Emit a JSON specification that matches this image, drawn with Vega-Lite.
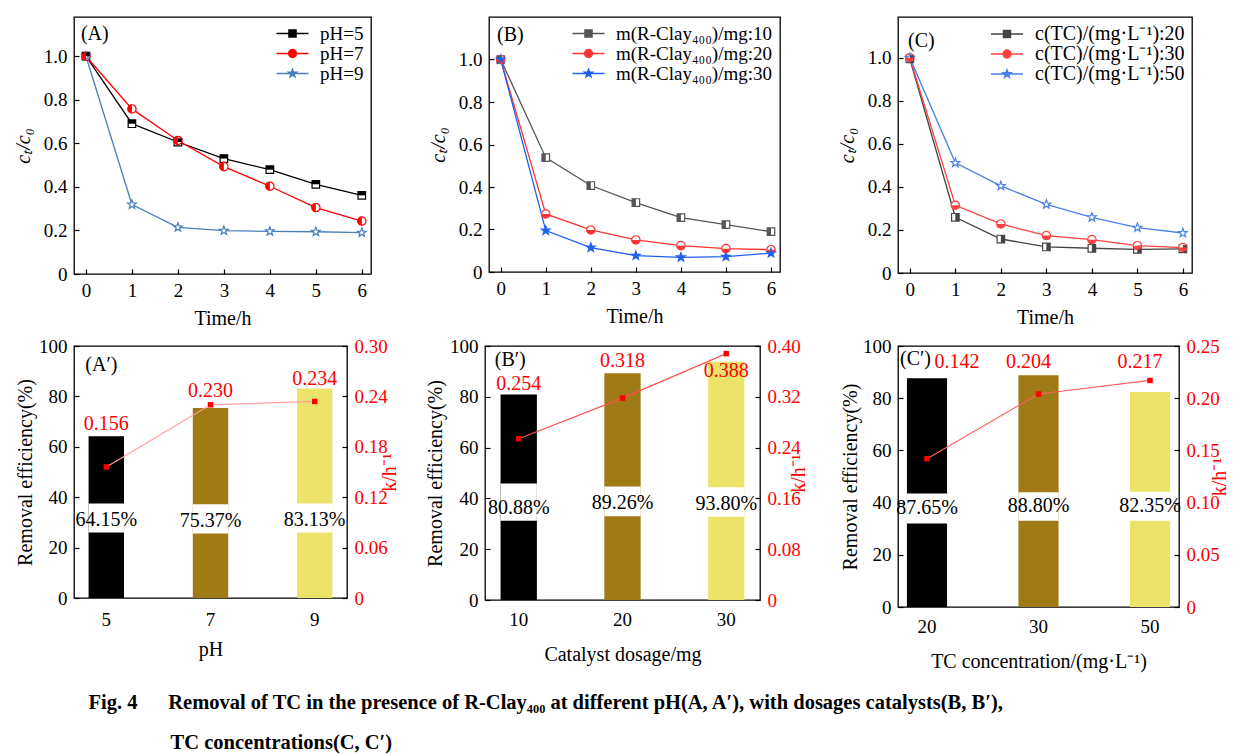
{
  "$schema": "https://vega.github.io/schema/vega-lite/v6.json",
  "padding": {"left": 12, "top": 16, "right": 0, "bottom": 0},
  "autosize": {"type": "pad"},
  "config": {
    "font": "Liberation Serif",
    "view": {"stroke": "#000", "strokeWidth": 1.3},
    "axis": {"grid": false, "domain": false, "labelFontSize": 19, "titleFontSize": 20, "titleFontWeight": "normal", "labelColor": "#000", "titleColor": "#000", "tickColor": "#000", "tickSize": -5, "tickWidth": 1.2, "labelPadding": 12, "labelFlush": false, "labelOverlap": false},
    "title": {"fontWeight": "normal", "fontSize": 20, "color": "#000"}
  },
  "datasets": {
    "A": [
      {"t": 0, "ratio": 1.0, "series": "pH=5"}, {"t": 1, "ratio": 0.69, "series": "pH=5"}, {"t": 2, "ratio": 0.606, "series": "pH=5"}, {"t": 3, "ratio": 0.53, "series": "pH=5"}, {"t": 4, "ratio": 0.479, "series": "pH=5"}, {"t": 5, "ratio": 0.412, "series": "pH=5"}, {"t": 6, "ratio": 0.361, "series": "pH=5"},
      {"t": 0, "ratio": 1.0, "series": "pH=7"}, {"t": 1, "ratio": 0.758, "series": "pH=7"}, {"t": 2, "ratio": 0.613, "series": "pH=7"}, {"t": 3, "ratio": 0.493, "series": "pH=7"}, {"t": 4, "ratio": 0.403, "series": "pH=7"}, {"t": 5, "ratio": 0.305, "series": "pH=7"}, {"t": 6, "ratio": 0.243, "series": "pH=7"},
      {"t": 0, "ratio": 1.0, "series": "pH=9"}, {"t": 1, "ratio": 0.319, "series": "pH=9"}, {"t": 2, "ratio": 0.214, "series": "pH=9"}, {"t": 3, "ratio": 0.199, "series": "pH=9"}, {"t": 4, "ratio": 0.196, "series": "pH=9"}, {"t": 5, "ratio": 0.194, "series": "pH=9"}, {"t": 6, "ratio": 0.19, "series": "pH=9"}
    ],
    "B": [
      {"t": 0, "ratio": 1.0, "series": "m(R-Clay₄₀₀)/mg:10"}, {"t": 1, "ratio": 0.538, "series": "m(R-Clay₄₀₀)/mg:10"}, {"t": 2, "ratio": 0.407, "series": "m(R-Clay₄₀₀)/mg:10"}, {"t": 3, "ratio": 0.327, "series": "m(R-Clay₄₀₀)/mg:10"}, {"t": 4, "ratio": 0.256, "series": "m(R-Clay₄₀₀)/mg:10"}, {"t": 5, "ratio": 0.223, "series": "m(R-Clay₄₀₀)/mg:10"}, {"t": 6, "ratio": 0.19, "series": "m(R-Clay₄₀₀)/mg:10"},
      {"t": 0, "ratio": 1.0, "series": "m(R-Clay₄₀₀)/mg:20"}, {"t": 1, "ratio": 0.273, "series": "m(R-Clay₄₀₀)/mg:20"}, {"t": 2, "ratio": 0.198, "series": "m(R-Clay₄₀₀)/mg:20"}, {"t": 3, "ratio": 0.151, "series": "m(R-Clay₄₀₀)/mg:20"}, {"t": 4, "ratio": 0.124, "series": "m(R-Clay₄₀₀)/mg:20"}, {"t": 5, "ratio": 0.11, "series": "m(R-Clay₄₀₀)/mg:20"}, {"t": 6, "ratio": 0.105, "series": "m(R-Clay₄₀₀)/mg:20"},
      {"t": 0, "ratio": 1.0, "series": "m(R-Clay₄₀₀)/mg:30"}, {"t": 1, "ratio": 0.195, "series": "m(R-Clay₄₀₀)/mg:30"}, {"t": 2, "ratio": 0.115, "series": "m(R-Clay₄₀₀)/mg:30"}, {"t": 3, "ratio": 0.077, "series": "m(R-Clay₄₀₀)/mg:30"}, {"t": 4, "ratio": 0.069, "series": "m(R-Clay₄₀₀)/mg:30"}, {"t": 5, "ratio": 0.072, "series": "m(R-Clay₄₀₀)/mg:30"}, {"t": 6, "ratio": 0.089, "series": "m(R-Clay₄₀₀)/mg:30"}
    ],
    "C": [
      {"t": 0, "ratio": 0.995, "series": "c(TC)/(mg·L⁻¹):20"}, {"t": 1, "ratio": 0.259, "series": "c(TC)/(mg·L⁻¹):20"}, {"t": 2, "ratio": 0.158, "series": "c(TC)/(mg·L⁻¹):20"}, {"t": 3, "ratio": 0.121, "series": "c(TC)/(mg·L⁻¹):20"}, {"t": 4, "ratio": 0.115, "series": "c(TC)/(mg·L⁻¹):20"}, {"t": 5, "ratio": 0.11, "series": "c(TC)/(mg·L⁻¹):20"}, {"t": 6, "ratio": 0.112, "series": "c(TC)/(mg·L⁻¹):20"},
      {"t": 0, "ratio": 1.0, "series": "c(TC)/(mg·L⁻¹):30"}, {"t": 1, "ratio": 0.315, "series": "c(TC)/(mg·L⁻¹):30"}, {"t": 2, "ratio": 0.228, "series": "c(TC)/(mg·L⁻¹):30"}, {"t": 3, "ratio": 0.174, "series": "c(TC)/(mg·L⁻¹):30"}, {"t": 4, "ratio": 0.155, "series": "c(TC)/(mg·L⁻¹):30"}, {"t": 5, "ratio": 0.127, "series": "c(TC)/(mg·L⁻¹):30"}, {"t": 6, "ratio": 0.118, "series": "c(TC)/(mg·L⁻¹):30"},
      {"t": 0, "ratio": 1.0, "series": "c(TC)/(mg·L⁻¹):50"}, {"t": 1, "ratio": 0.512, "series": "c(TC)/(mg·L⁻¹):50"}, {"t": 2, "ratio": 0.405, "series": "c(TC)/(mg·L⁻¹):50"}, {"t": 3, "ratio": 0.319, "series": "c(TC)/(mg·L⁻¹):50"}, {"t": 4, "ratio": 0.259, "series": "c(TC)/(mg·L⁻¹):50"}, {"t": 5, "ratio": 0.211, "series": "c(TC)/(mg·L⁻¹):50"}, {"t": 6, "ratio": 0.186, "series": "c(TC)/(mg·L⁻¹):50"}
    ],
    "Ap": [
      {"cat": "5", "removal": 64.15, "pct": "64.15%", "k": 0.156, "gapLo": 26.0, "gapHi": 37.5, "kLabelAt": 69.2},
      {"cat": "7", "removal": 75.37, "pct": "75.37%", "k": 0.230, "gapLo": 25.6, "gapHi": 37.2, "kLabelAt": 82.0},
      {"cat": "9", "removal": 83.13, "pct": "83.13%", "k": 0.234, "gapLo": 26.0, "gapHi": 37.5, "kLabelAt": 87.0}
    ],
    "Bp": [
      {"cat": "10", "removal": 80.88, "pct": "80.88%", "k": 0.254, "gapLo": 31.2, "gapHi": 45.9, "kLabelAt": 85.2},
      {"cat": "20", "removal": 89.26, "pct": "89.26%", "k": 0.318, "gapLo": 33.0, "gapHi": 44.7, "kLabelAt": 94.1},
      {"cat": "30", "removal": 93.80, "pct": "93.80%", "k": 0.388, "gapLo": 32.8, "gapHi": 44.4, "kLabelAt": 90.2}
    ],
    "Cp": [
      {"cat": "20", "removal": 87.65, "pct": "87.65%", "k": 0.142, "gapLo": 32.0, "gapHi": 43.5, "kLabelAt": 94.0},
      {"cat": "30", "removal": 88.80, "pct": "88.80%", "k": 0.204, "gapLo": 33.0, "gapHi": 44.0, "kLabelAt": 94.0},
      {"cat": "50", "removal": 82.35, "pct": "82.35%", "k": 0.217, "gapLo": 33.0, "gapHi": 44.2, "kLabelAt": 94.0}
    ]
  },
  "title": {
    "text": ["Fig. 4\u00a0\u00a0\u00a0\u00a0\u00a0\u00a0Removal of TC in the presence of R-Clay₄₀₀ at different pH(A, A′), with dosages catalysts(B, B′),", "\u200b\u00a0\u00a0\u00a0\u00a0\u00a0\u00a0\u00a0\u00a0\u00a0\u00a0\u00a0\u00a0\u00a0\u00a0\u00a0\u00a0TC concentrations(C, C′)"],
    "orient": "bottom", "anchor": "start", "fontSize": 20.5, "fontWeight": "bold", "lineHeight": 40, "offset": 21, "dx": 76
  },
  "spacing": 7,
  "resolve": {"scale": {"color": "independent", "stroke": "independent", "shape": "independent", "x": "independent", "y": "independent"}, "legend": {"color": "independent", "stroke": "independent", "shape": "independent"}},
  "vconcat": [
    {
      "bounds": "flush",
      "spacing": 118,
      "resolve": {"scale": {"color": "independent", "stroke": "independent", "shape": "independent", "x": "independent", "y": "independent"}, "legend": {"color": "independent", "stroke": "independent", "shape": "independent"}},
      "hconcat": [
        {
          "width": 297, "height": 257,
          "layer": [
            {"data": {"name": "A"}, "mark": {"type": "line", "strokeWidth": 1.3},
             "encoding": {
               "x": {"field": "t", "type": "quantitative", "scale": {"domain": [-0.26, 6.2], "nice": false, "zero": false}, "axis": {"values": [0, 1, 2, 3, 4, 5, 6], "title": "Time/h", "titlePadding": 8}},
               "y": {"field": "ratio", "type": "quantitative", "scale": {"domain": [0, 1.18], "nice": false}, "axis": {"values": [0, 0.2, 0.4, 0.6, 0.8, 1.0], "labelExpr": "datum.value == 0 ? '0' : format(datum.value, '.1f')", "title": "cₜ/c₀", "titleFontStyle": "italic", "titlePadding": 10}},
               "color": {"field": "series", "type": "nominal", "scale": {"domain": ["pH=5", "pH=7", "pH=9"], "range": ["#000000", "#ff0000", "#4a7ebb"]},
               "legend": {"orient": "top-right", "offset": 7, "title": null, "padding": 0, "labelFontSize": 19, "labelOffset": 18, "symbolSize": 64, "rowPadding": -6, "labelColor": "#000",
                 "encode": {"symbols": {"update": {
                   "shape": {"signal": "datum.index === 0 ? 'M-4,0H4M-0.9,-0.9H0.9V0.9H-0.9Z' : datum.index === 1 ? 'M-4,0H4M1,0A1,1 0 1,1 -1,0A1,1 0 1,1 1,0Z' : 'M-4,0H4M0,-1.1L0.265,-0.364L1.046,-0.34L0.428,0.139L0.647,0.89L0,0.45L-0.647,0.89L-0.428,0.139L-1.046,-0.34L-0.265,-0.364Z'"},
                   "fill": {"signal": "datum.index === 0 ? '#000' : datum.index === 1 ? '#ff0000' : '#ffffff'"},
                   "fillOpacity": {"value": 1}, "strokeWidth": {"value": 1.3}, "opacity": {"value": 1}}}}}}}},
            {"data": {"name": "A"}, "mark": {"type": "point", "filled": true, "fill": "#ffffff", "size": 70, "strokeWidth": 1.2, "opacity": 1},
             "encoding": {"x": {"field": "t", "type": "quantitative"}, "y": {"field": "ratio", "type": "quantitative"},
               "stroke": {"field": "series", "type": "nominal", "scale": {"domain": ["pH=5", "pH=7", "pH=9"], "range": ["#000000", "#ff0000", "#4a7ebb"]}, "legend": null},
               "shape": {"field": "series", "type": "nominal", "scale": {"domain": ["pH=5", "pH=7", "pH=9"], "range": ["M-0.9,-0.9H0.9V0.9H-0.9Z", "M1,0A1,1 0 1,1 -1,0A1,1 0 1,1 1,0Z", "M0,-1.1L0.265,-0.364L1.046,-0.34L0.428,0.139L0.647,0.89L0,0.45L-0.647,0.89L-0.428,0.139L-1.046,-0.34L-0.265,-0.364Z"]}, "legend": null}}},
            {"data": {"name": "A"}, "mark": {"type": "point", "filled": true, "size": 70, "strokeWidth": 0, "opacity": 1},
             "encoding": {"x": {"field": "t", "type": "quantitative"}, "y": {"field": "ratio", "type": "quantitative"},
               "color": {"field": "series", "type": "nominal"},
               "shape": {"field": "series", "type": "nominal", "scale": {"domain": ["pH=5", "pH=7", "pH=9"], "range": ["M-0.9,-0.9H0.9V0H-0.9Z", "M0,-1A1,1 0 0,0 0,1Z", "M0,0Z"]}, "legend": null}}},
            {"data": {"values": [{"label": "(A)", "t": -0.11, "ratio": 1.1}]}, "mark": {"type": "text", "align": "left", "baseline": "middle", "fontSize": 20, "color": "#000"},
             "encoding": {"x": {"field": "t", "type": "quantitative"}, "y": {"field": "ratio", "type": "quantitative"}, "text": {"field": "label"}}}
          ],
          "resolve": {"scale": {"shape": "independent"}}
        },
        {
          "width": 291, "height": 255,
          "layer": [
            {"data": {"name": "B"}, "mark": {"type": "line", "strokeWidth": 1.3},
             "encoding": {
               "x": {"field": "t", "type": "quantitative", "scale": {"domain": [-0.26, 6.2], "nice": false, "zero": false}, "axis": {"values": [0, 1, 2, 3, 4, 5, 6], "title": "Time/h", "titlePadding": 8}},
               "y": {"field": "ratio", "type": "quantitative", "scale": {"domain": [0, 1.2], "nice": false}, "axis": {"values": [0, 0.2, 0.4, 0.6, 0.8, 1.0], "labelExpr": "datum.value == 0 ? '0' : format(datum.value, '.1f')", "title": "cₜ/c₀", "titleFontStyle": "italic", "titlePadding": 10}},
               "color": {"field": "series", "type": "nominal", "scale": {"domain": ["m(R-Clay₄₀₀)/mg:10", "m(R-Clay₄₀₀)/mg:20", "m(R-Clay₄₀₀)/mg:30"], "range": ["#555555", "#ff3333", "#2060f0"]},
               "legend": {"orient": "top-right", "offset": 7, "title": null, "padding": 0, "labelFontSize": 19, "labelOffset": 18, "symbolSize": 64, "rowPadding": -6, "labelColor": "#000",
                 "encode": {"symbols": {"update": {
                   "shape": {"signal": "datum.index === 0 ? 'M-4,0H4M-0.9,-0.9H0.9V0.9H-0.9Z' : datum.index === 1 ? 'M-4,0H4M1,0A1,1 0 1,1 -1,0A1,1 0 1,1 1,0Z' : 'M-4,0H4M0,-1.1L0.265,-0.364L1.046,-0.34L0.428,0.139L0.647,0.89L0,0.45L-0.647,0.89L-0.428,0.139L-1.046,-0.34L-0.265,-0.364Z'"},
                   "fill": {"signal": "datum.index === 0 ? '#888888' : datum.index === 1 ? '#ffb0b0' : '#2060f0'"},
                   "fillOpacity": {"value": 1}, "strokeWidth": {"value": 1.3}, "opacity": {"value": 1}}}}}}}},
            {"data": {"name": "B"}, "mark": {"type": "point", "filled": true, "fill": "#ffffff", "size": 70, "strokeWidth": 1.2, "opacity": 1},
             "encoding": {"x": {"field": "t", "type": "quantitative"}, "y": {"field": "ratio", "type": "quantitative"},
               "stroke": {"field": "series", "type": "nominal", "scale": {"domain": ["m(R-Clay₄₀₀)/mg:10", "m(R-Clay₄₀₀)/mg:20", "m(R-Clay₄₀₀)/mg:30"], "range": ["#555555", "#ff3333", "#2060f0"]}, "legend": null},
               "shape": {"field": "series", "type": "nominal", "scale": {"domain": ["m(R-Clay₄₀₀)/mg:10", "m(R-Clay₄₀₀)/mg:20", "m(R-Clay₄₀₀)/mg:30"], "range": ["M-0.9,-0.9H0.9V0.9H-0.9Z", "M1,0A1,1 0 1,1 -1,0A1,1 0 1,1 1,0Z", "M0,-1.1L0.265,-0.364L1.046,-0.34L0.428,0.139L0.647,0.89L0,0.45L-0.647,0.89L-0.428,0.139L-1.046,-0.34L-0.265,-0.364Z"]}, "legend": null}}},
            {"data": {"name": "B"}, "mark": {"type": "point", "filled": true, "size": 70, "strokeWidth": 0, "opacity": 1},
             "encoding": {"x": {"field": "t", "type": "quantitative"}, "y": {"field": "ratio", "type": "quantitative"},
               "color": {"field": "series", "type": "nominal"},
               "shape": {"field": "series", "type": "nominal", "scale": {"domain": ["m(R-Clay₄₀₀)/mg:10", "m(R-Clay₄₀₀)/mg:20", "m(R-Clay₄₀₀)/mg:30"], "range": ["M-0.9,-0.9H0V0.9H-0.9Z", "M-1,0A1,1 0 0,0 1,0Z", "M0,-1.1L0.265,-0.364L1.046,-0.34L0.428,0.139L0.647,0.89L0,0.45L-0.647,0.89L-0.428,0.139L-1.046,-0.34L-0.265,-0.364Z"]}, "legend": null}}},
            {"data": {"values": [{"label": "(B)", "t": -0.08, "ratio": 1.115}]}, "mark": {"type": "text", "align": "left", "baseline": "middle", "fontSize": 20, "color": "#000"},
             "encoding": {"x": {"field": "t", "type": "quantitative"}, "y": {"field": "ratio", "type": "quantitative"}, "text": {"field": "label"}}}
          ],
          "resolve": {"scale": {"shape": "independent"}}
        },
        {
          "width": 294, "height": 256,
          "layer": [
            {"data": {"name": "C"}, "mark": {"type": "line", "strokeWidth": 1.3},
             "encoding": {
               "x": {"field": "t", "type": "quantitative", "scale": {"domain": [-0.26, 6.2], "nice": false, "zero": false}, "axis": {"values": [0, 1, 2, 3, 4, 5, 6], "title": "Time/h", "titlePadding": 8}},
               "y": {"field": "ratio", "type": "quantitative", "scale": {"domain": [0, 1.19], "nice": false}, "axis": {"values": [0, 0.2, 0.4, 0.6, 0.8, 1.0], "labelExpr": "datum.value == 0 ? '0' : format(datum.value, '.1f')", "title": "cₜ/c₀", "titleFontStyle": "italic", "titlePadding": 10}},
               "color": {"field": "series", "type": "nominal", "scale": {"domain": ["c(TC)/(mg·L⁻¹):20", "c(TC)/(mg·L⁻¹):30", "c(TC)/(mg·L⁻¹):50"], "range": ["#444444", "#ff4040", "#4a80e8"]},
               "legend": {"orient": "top-right", "offset": 7, "title": null, "padding": 0, "labelFontSize": 20, "labelOffset": 18, "symbolSize": 64, "rowPadding": -7, "labelColor": "#000",
                 "encode": {"symbols": {"update": {
                   "shape": {"signal": "datum.index === 0 ? 'M-4,0H4M-0.9,-0.9H0.9V0.9H-0.9Z' : datum.index === 1 ? 'M-4,0H4M1,0A1,1 0 1,1 -1,0A1,1 0 1,1 1,0Z' : 'M-4,0H4M0,-1.1L0.265,-0.364L1.046,-0.34L0.428,0.139L0.647,0.89L0,0.45L-0.647,0.89L-0.428,0.139L-1.046,-0.34L-0.265,-0.364Z'"},
                   "fill": {"signal": "datum.index === 0 ? '#999999' : datum.index === 1 ? '#ff8080' : '#bcd0f5'"},
                   "fillOpacity": {"value": 1}, "strokeWidth": {"value": 1.3}, "opacity": {"value": 1}}}}}}}},
            {"data": {"name": "C"}, "mark": {"type": "point", "filled": true, "fill": "#ffffff", "size": 70, "strokeWidth": 1.2, "opacity": 1},
             "encoding": {"x": {"field": "t", "type": "quantitative"}, "y": {"field": "ratio", "type": "quantitative"},
               "stroke": {"field": "series", "type": "nominal", "scale": {"domain": ["c(TC)/(mg·L⁻¹):20", "c(TC)/(mg·L⁻¹):30", "c(TC)/(mg·L⁻¹):50"], "range": ["#444444", "#ff4040", "#4a80e8"]}, "legend": null},
               "shape": {"field": "series", "type": "nominal", "scale": {"domain": ["c(TC)/(mg·L⁻¹):20", "c(TC)/(mg·L⁻¹):30", "c(TC)/(mg·L⁻¹):50"], "range": ["M-0.9,-0.9H0.9V0.9H-0.9Z", "M1,0A1,1 0 1,1 -1,0A1,1 0 1,1 1,0Z", "M0,-1.1L0.265,-0.364L1.046,-0.34L0.428,0.139L0.647,0.89L0,0.45L-0.647,0.89L-0.428,0.139L-1.046,-0.34L-0.265,-0.364Z"]}, "legend": null}}},
            {"data": {"name": "C"}, "mark": {"type": "point", "filled": true, "size": 70, "strokeWidth": 0, "opacity": 1},
             "encoding": {"x": {"field": "t", "type": "quantitative"}, "y": {"field": "ratio", "type": "quantitative"},
               "color": {"field": "series", "type": "nominal"},
               "shape": {"field": "series", "type": "nominal", "scale": {"domain": ["c(TC)/(mg·L⁻¹):20", "c(TC)/(mg·L⁻¹):30", "c(TC)/(mg·L⁻¹):50"], "range": ["M0,-0.9H0.9V0.9H0Z", "M-1,0A1,1 0 0,0 1,0Z", "M0,0Z"]}, "legend": null}}},
            {"data": {"values": [{"label": "(C)", "t": -0.04, "ratio": 1.08}]}, "mark": {"type": "text", "align": "left", "baseline": "middle", "fontSize": 20, "color": "#000"},
             "encoding": {"x": {"field": "t", "type": "quantitative"}, "y": {"field": "ratio", "type": "quantitative"}, "text": {"field": "label"}}}
          ],
          "resolve": {"scale": {"shape": "independent"}}
        }
      ]
    },
    {
      "bounds": "flush",
      "spacing": 138,
      "resolve": {"scale": {"color": "independent", "x": "independent", "y": "independent"}, "legend": {"color": "independent"}},
      "hconcat": [
        {
          "width": 273, "height": 252,
          "data": {"name": "Ap"},
          "encoding": {"x": {"field": "cat", "type": "ordinal", "sort": null, "scale": {"type": "band", "paddingInner": 0.66, "paddingOuter": 0.14}, "axis": {"title": "pH", "labelAngle": 0, "ticks": false, "labelPadding": 12, "titlePadding": 10}}},
          "layer": [
            {"layer": [
              {"mark": {"type": "bar", "width": {"band": 1}}, "encoding": {
                "y": {"field": "removal", "type": "quantitative", "scale": {"domain": [0, 100], "nice": false}, "axis": {"values": [0, 20, 40, 60, 80, 100], "title": "Removal efficiency(%)", "titlePadding": 3}},
                "color": {"field": "cat", "type": "ordinal", "sort": null, "scale": {"range": ["#000000", "#a07a14", "#ebe36a"]}, "legend": null}}},
              {"mark": {"type": "bar", "color": "#ffffff", "width": {"band": 1}}, "encoding": {"y": {"field": "gapLo", "type": "quantitative"}, "y2": {"field": "gapHi"}}},
              {"mark": {"type": "text", "fontSize": 20, "baseline": "middle", "dy": -12, "color": "#000"}, "encoding": {"y": {"field": "gapLo", "type": "quantitative"}, "text": {"field": "pct"}}},
              {"mark": {"type": "text", "fontSize": 20, "baseline": "middle", "color": "#ff0000"}, "encoding": {"y": {"field": "kLabelAt", "type": "quantitative"}, "text": {"field": "k", "format": ".3f"}}},
              {"data": {"values": [{"label": "(A′)", "cat": "5", "removal": 92.5}]}, "mark": {"type": "text", "align": "left", "baseline": "middle", "fontSize": 20, "color": "#000", "dx": -21},
               "encoding": {"y": {"field": "removal", "type": "quantitative"}, "text": {"field": "label"}}}
            ]},
            {"layer": [
              {"mark": {"type": "line", "color": "#ffa0a0", "strokeWidth": 1.2}, "encoding": {"y": {"field": "k", "type": "quantitative", "scale": {"domain": [0, 0.3], "nice": false}, "axis": {"orient": "right", "values": [0, 0.06, 0.12, 0.18, 0.24, 0.30], "labelExpr": "datum.value == 0 ? '0' : format(datum.value, '.2f')", "title": "k/h⁻¹", "titleColor": "#ff0000", "labelColor": "#ff0000", "titleAngle": 270, "titlePadding": 12}}}},
              {"mark": {"type": "point", "shape": "square", "filled": true, "color": "#ff0000", "size": 30, "opacity": 1}, "encoding": {"y": {"field": "k", "type": "quantitative"}}}
            ]}
          ],
          "resolve": {"scale": {"y": "independent"}}
        },
        {
          "width": 275, "height": 254,
          "data": {"name": "Bp"},
          "encoding": {"x": {"field": "cat", "type": "ordinal", "sort": null, "scale": {"type": "band", "paddingInner": 0.65, "paddingOuter": 0.15}, "axis": {"title": "Catalyst dosage/mg", "labelAngle": 0, "ticks": false, "labelPadding": 10, "titlePadding": 15}}},
          "layer": [
            {"layer": [
              {"mark": {"type": "bar", "width": {"band": 1}}, "encoding": {
                "y": {"field": "removal", "type": "quantitative", "scale": {"domain": [0, 100], "nice": false}, "axis": {"values": [0, 20, 40, 60, 80, 100], "title": "Removal efficiency(%)", "titlePadding": 4}},
                "color": {"field": "cat", "type": "ordinal", "sort": null, "scale": {"range": ["#000000", "#a07a14", "#ebe36a"]}, "legend": null}}},
              {"mark": {"type": "bar", "color": "#ffffff", "width": {"band": 1}}, "encoding": {"y": {"field": "gapLo", "type": "quantitative"}, "y2": {"field": "gapHi"}}},
              {"mark": {"type": "text", "fontSize": 20, "baseline": "middle", "dy": -13, "color": "#000"}, "encoding": {"y": {"field": "gapLo", "type": "quantitative"}, "text": {"field": "pct"}}},
              {"mark": {"type": "text", "fontSize": 20, "baseline": "middle", "color": "#ff0000"}, "encoding": {"y": {"field": "kLabelAt", "type": "quantitative"}, "text": {"field": "k", "format": ".3f"}}},
              {"data": {"values": [{"label": "(B′)", "cat": "10", "removal": 94.5}]}, "mark": {"type": "text", "align": "left", "baseline": "middle", "fontSize": 20, "color": "#000", "dx": -24},
               "encoding": {"y": {"field": "removal", "type": "quantitative"}, "text": {"field": "label"}}}
            ]},
            {"layer": [
              {"mark": {"type": "line", "color": "#ff5050", "strokeWidth": 1.2}, "encoding": {"y": {"field": "k", "type": "quantitative", "scale": {"domain": [0, 0.4], "nice": false}, "axis": {"orient": "right", "values": [0, 0.08, 0.16, 0.24, 0.32, 0.40], "labelExpr": "datum.value == 0 ? '0' : format(datum.value, '.2f')", "title": "k/h⁻¹", "titleColor": "#ff0000", "labelColor": "#ff0000", "titleAngle": 270, "titlePadding": 8}}}},
              {"mark": {"type": "point", "shape": "square", "filled": true, "color": "#ff0000", "size": 30, "opacity": 1}, "encoding": {"y": {"field": "k", "type": "quantitative"}}}
            ]}
          ],
          "resolve": {"scale": {"y": "independent"}}
        },
        {
          "width": 281, "height": 261,
          "data": {"name": "Cp"},
          "encoding": {"x": {"field": "cat", "type": "ordinal", "sort": null, "scale": {"type": "band", "paddingInner": 0.64, "paddingOuter": 0.08}, "axis": {"title": "TC concentration/(mg·L⁻¹)", "labelAngle": 0, "ticks": false, "labelPadding": 10, "titlePadding": 15}}},
          "layer": [
            {"layer": [
              {"mark": {"type": "bar", "width": {"band": 1}}, "encoding": {
                "y": {"field": "removal", "type": "quantitative", "scale": {"domain": [0, 100], "nice": false}, "axis": {"values": [0, 20, 40, 60, 80, 100], "title": "Removal efficiency(%)", "titlePadding": 2}},
                "color": {"field": "cat", "type": "ordinal", "sort": null, "scale": {"range": ["#000000", "#a07a14", "#ebe36a"]}, "legend": null}}},
              {"mark": {"type": "bar", "color": "#ffffff", "width": {"band": 1}}, "encoding": {"y": {"field": "gapLo", "type": "quantitative"}, "y2": {"field": "gapHi"}}},
              {"mark": {"type": "text", "fontSize": 20, "baseline": "middle", "dy": -15, "color": "#000"}, "encoding": {"y": {"field": "gapLo", "type": "quantitative"}, "text": {"field": "pct"}}},
              {"transform": [{"filter": "datum.cat != '20'"}], "mark": {"type": "text", "fontSize": 20, "baseline": "middle", "color": "#ff0000", "dx": -10}, "encoding": {"y": {"field": "kLabelAt", "type": "quantitative"}, "text": {"field": "k", "format": ".3f"}}},
              {"transform": [{"filter": "datum.cat == '20'"}], "mark": {"type": "text", "fontSize": 20, "baseline": "middle", "color": "#ff0000", "dx": 30}, "encoding": {"y": {"field": "kLabelAt", "type": "quantitative"}, "text": {"field": "k", "format": ".3f"}}},
              {"data": {"values": [{"label": "(C′)", "cat": "20", "removal": 95}]}, "mark": {"type": "text", "align": "left", "baseline": "middle", "fontSize": 20, "color": "#000", "dx": -27},
               "encoding": {"y": {"field": "removal", "type": "quantitative"}, "text": {"field": "label"}}}
            ]},
            {"layer": [
              {"mark": {"type": "line", "color": "#ff6060", "strokeWidth": 1.2}, "encoding": {"y": {"field": "k", "type": "quantitative", "scale": {"domain": [0, 0.25], "nice": false}, "axis": {"orient": "right", "values": [0, 0.05, 0.10, 0.15, 0.20, 0.25], "labelExpr": "datum.value == 0 ? '0' : format(datum.value, '.2f')", "title": "k/h⁻¹", "titleColor": "#ff0000", "labelColor": "#ff0000", "titleAngle": 270, "titlePadding": 10}}}},
              {"mark": {"type": "point", "shape": "square", "filled": true, "color": "#ff0000", "size": 30, "opacity": 1}, "encoding": {"y": {"field": "k", "type": "quantitative"}}}
            ]}
          ],
          "resolve": {"scale": {"y": "independent"}}
        }
      ]
    }
  ]
}
